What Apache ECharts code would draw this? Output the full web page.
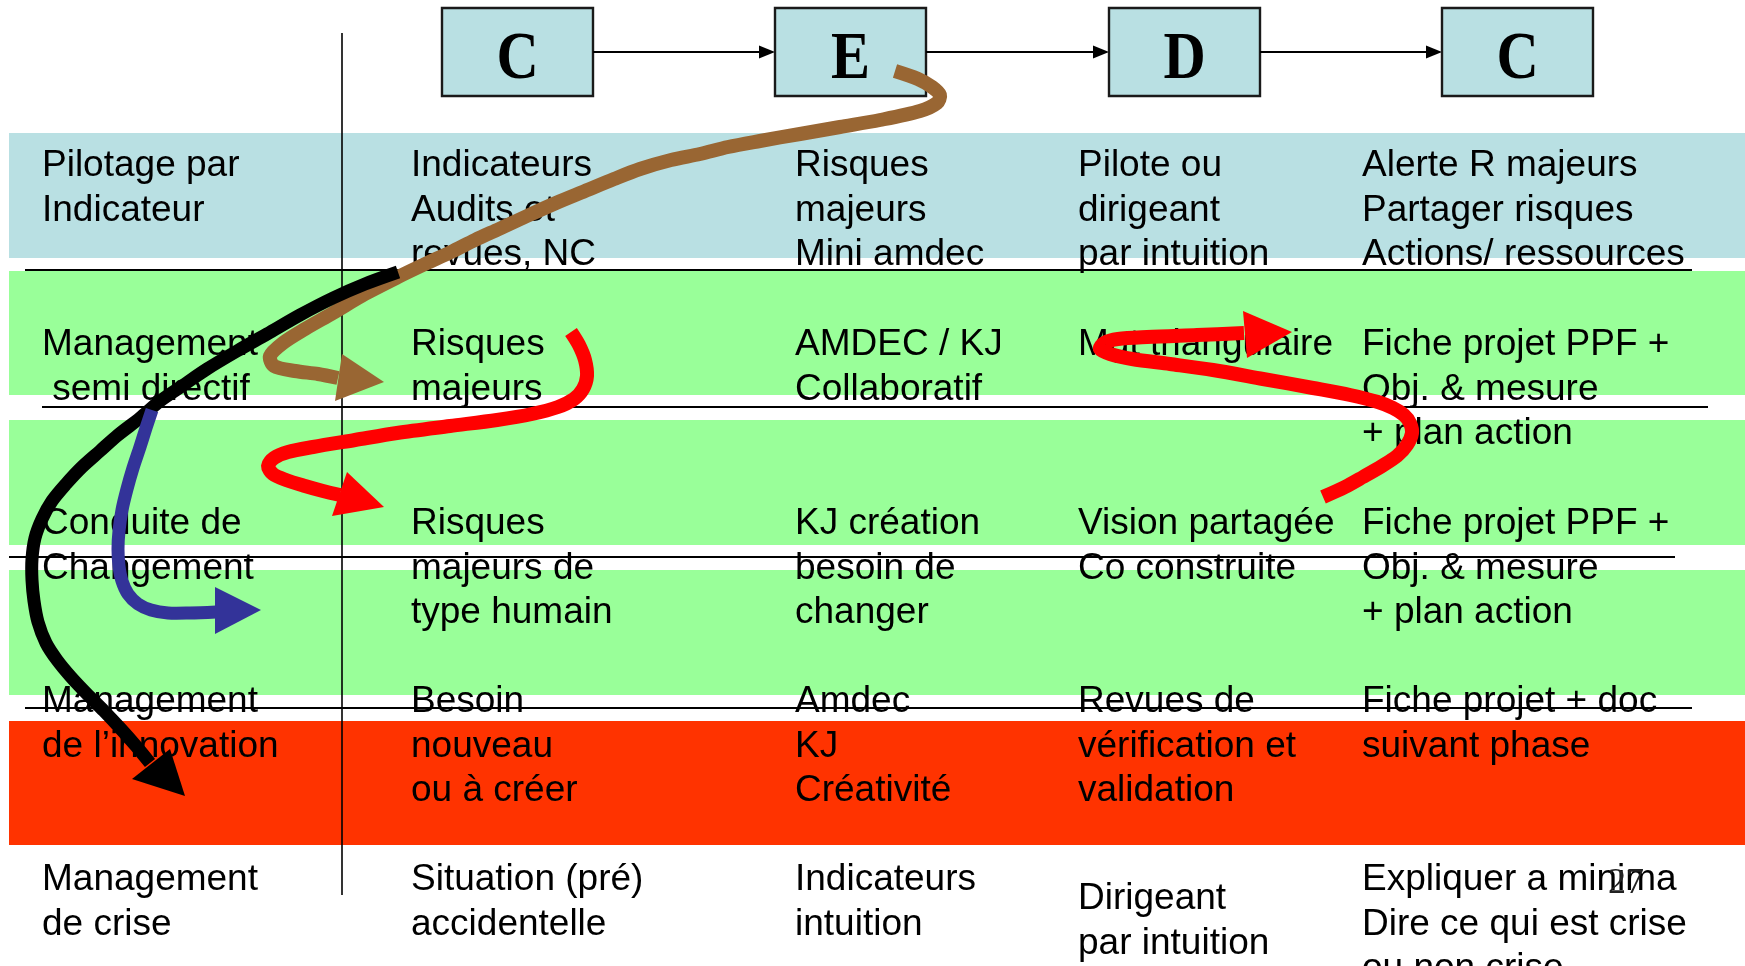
<!DOCTYPE html>
<html>
<head>
<meta charset="utf-8">
<script src="https://cdn.jsdelivr.net/npm/echarts@6/dist/echarts.min.js"></script>
<style>
html,body{margin:0;padding:0;background:#ffffff;}
#c{width:1745px;height:966px;}
</style>
</head>
<body>
<div id="c"></div>
<script>
// ---------- content ----------
const stages = ['C', 'E', 'D', 'C'];
const approaches = [
  ['Pilotage par', 'Indicateur'],
  ['Management', ' semi directif'],
  ['Conduite de', 'Changement'],
  ['Management', 'de l’innovation'],
  ['Management', 'de crise']
];
const stageC1 = [
  ['Indicateurs', 'Audits et', 'revues, NC'],
  ['Risques', 'majeurs'],
  ['Risques', 'majeurs de', 'type humain'],
  ['Besoin', 'nouveau', 'ou à créer'],
  ['Situation (pré)', 'accidentelle']
];
const stageE = [
  ['Risques', 'majeurs', 'Mini amdec'],
  ['AMDEC / KJ', 'Collaboratif'],
  ['KJ création', 'besoin de', 'changer'],
  ['Amdec', 'KJ', 'Créativité'],
  ['Indicateurs', 'intuition']
];
const stageD = [
  ['Pilote ou', 'dirigeant', 'par intuition'],
  ['Mgt triangulaire'],
  ['Vision partagée', 'Co construite'],
  ['Revues de', 'vérification et', 'validation'],
  ['Dirigeant', 'par intuition']
];
const stageC2 = [
  ['Alerte R majeurs', 'Partager risques', 'Actions/ ressources'],
  ['Fiche projet PPF +', 'Obj. & mesure', '+ plan action'],
  ['Fiche projet PPF +', 'Obj. & mesure', '+ plan action'],
  ['Fiche projet + doc', 'suivant phase'],
  ['Expliquer a minima', 'Dire ce qui est crise', 'ou non crise']
];
const pageNumber = '27';

// ---------- curved paths (slide units) ----------
const pathBrown = [[895,71],[918,79],[932,87],[940,95],[937,103],[920,111],[880,120],[840,127],[800,134],[760,141],[728,147],[700,154],[671,160],[640,169],[614,179],[585,191],[556,203],[527,216],[499,229],[475,240],[451,252],[425,264],[398,277],[365,294],[333,313],[305,329],[283,343],[270,356],[274,366],[295,371],[318,374],[338,378]];
const headBrown = [[384,382],[342,354],[335,401]];
const pathBlack = [[398,272],[365,284],[333,298],[300,315],[267,334],[237,351],[207,369],[182,386],[160,401],[140,418],[118,435],[100,451],[82,467],[66,484],[52,501],[42,519],[35,538],[32,559],[32,580],[34,601],[38,622],[46,643],[57,660],[71,677],[87,694],[104,711],[120,728],[136,746],[150,763]];
const headBlack = [[185,796],[132,779],[170,749]];
const pathBlue = [[152,410],[146,428],[140,447],[133,468],[127,489],[122,510],[119,531],[118,549],[119,566],[122,581],[128,594],[138,604],[151,610],[168,613],[190,613],[216,612]];
const headBlue = [[261,610],[215,587],[215,634]];
const pathRed1 = [[571,332],[579,345],[585,360],[587,376],[583,389],[574,399],[558,407],[532,414],[497,420],[450,426],[397,433],[355,440],[313,447],[288,452],[274,458],[268,466],[273,474],[286,480],[305,486],[323,491],[340,495]];
const headRed1 = [[384,507],[347,472],[332,516]];
const pathRed2 = [[1323,497],[1345,487],[1363,477],[1382,466],[1397,456],[1407,445],[1412,433],[1410,423],[1404,415],[1393,408],[1378,402],[1350,395],[1313,388],[1263,379],[1213,370],[1170,364],[1132,359],[1110,354],[1100,349],[1104,343],[1118,339],[1147,337],[1197,335],[1244,333]];
const headRed2 = [[1292,332],[1243,311],[1247,358]];

// ---------- layout (slide units) ----------
const bands = [
  {x0: 9, x1: 1745, y0: 133, y1: 258, color: '#B9E0E3'},
  {x0: 9, x1: 1745, y0: 271, y1: 395, color: '#99FF99'},
  {x0: 9, x1: 1745, y0: 420, y1: 545, color: '#99FF99'},
  {x0: 9, x1: 1745, y0: 570, y1: 695, color: '#99FF99'},
  {x0: 9, x1: 1745, y0: 721, y1: 845, color: '#FF3300'}
];
const rules = [
  [[25,270],[1692,270]],
  [[42,407],[1708,407]],
  [[9,557],[1675,557]],
  [[25,708],[1692,708]],
  [[342,33],[342,895]]
];
const boxLeft = [442, 775, 1109, 1442];
const boxW = 151, boxTop = 8, boxBottom = 96, connectorY = 52, letterY = 60;
const colX = [42, 411, 795, 1078, 1362];
const rowY = [166, 345, 524, 702, 880];
const lineStep = 44.6;
const columns = [approaches, stageC1, stageE, stageD, stageC2];

const curves = [
  {path: pathBrown, head: headBrown, color: '#996633', width: 14},
  {path: pathBlack, head: headBlack, color: '#000000', width: 13},
  {path: pathBlue, head: headBlue, color: '#333399', width: 13},
  {path: pathRed1, head: headRed1, color: '#FF0000', width: 14},
  {path: pathRed2, head: headRed2, color: '#FF0000', width: 14}
];

// text items
const textItems = [];
columns.forEach((col, c) => {
  col.forEach((lines, r) => {
    const shift = (c === 3 && r === 4) ? 0.42 * lineStep : 0;
    lines.forEach((t, i) => {
      textItems.push({x: colX[c], y: rowY[r] + i * lineStep + shift, text: t});
    });
  });
});

const chart = echarts.init(document.getElementById('c'), null, {renderer: 'canvas', width: 1745, height: 966});
const P = (api, arr) => arr.map(p => api.coord(p));
const FONT = '37px "Liberation Sans", Arial, sans-serif';

const base = {type: 'custom', coordinateSystem: 'cartesian2d', silent: true, clip: false, animation: false};

const series = [
  Object.assign({}, base, {
    z: 1,
    data: bands.map(b => [b.x0, b.y0]),
    renderItem(params, api) {
      const b = bands[params.dataIndex];
      const p0 = api.coord([b.x0, b.y0]), p1 = api.coord([b.x1, b.y1]);
      return {type: 'rect', shape: {x: p0[0], y: p0[1], width: p1[0] - p0[0], height: p1[1] - p0[1]}, style: {fill: b.color}};
    }
  }),
  Object.assign({}, base, {
    z: 2,
    data: textItems.map(t => [t.x, t.y]),
    renderItem(params, api) {
      const t = textItems[params.dataIndex];
      const p = api.coord([t.x, t.y]);
      return {type: 'text', x: p[0], y: p[1], style: {text: t.text, font: FONT, fill: '#000', align: 'left', verticalAlign: 'middle'}};
    }
  }),
  Object.assign({}, base, {
    z: 3,
    data: rules.map(r => r[0]),
    renderItem(params, api) {
      const r = rules[params.dataIndex];
      const a = api.coord(r[0]), b = api.coord(r[1]);
      const vertical = Math.abs(a[0] - b[0]) < 1;
      return {type: 'line', shape: {x1: a[0], y1: a[1], x2: b[0], y2: b[1]}, style: {stroke: '#000', lineWidth: vertical ? 1.6 : 2.2}};
    }
  }),
  Object.assign({}, base, {
    z: 4,
    data: stages.map((s, i) => [boxLeft[i], boxTop]),
    renderItem(params, api) {
      const i = params.dataIndex;
      const p0 = api.coord([boxLeft[i], boxTop]), p1 = api.coord([boxLeft[i] + boxW, boxBottom]);
      const children = [
        {type: 'rect', shape: {x: p0[0], y: p0[1], width: p1[0] - p0[0], height: p1[1] - p0[1]}, style: {fill: '#B9E0E3', stroke: '#1a1a1a', lineWidth: 2.4}},
        {type: 'text', x: (p0[0] + p1[0]) / 2, y: api.coord([0, letterY])[1], scaleX: 0.86,
         style: {text: stages[i], font: 'bold 68px "Liberation Serif", "Times New Roman", serif', fill: '#000', align: 'center', verticalAlign: 'middle'}}
      ];
      if (i < stages.length - 1) {
        const a = api.coord([boxLeft[i] + boxW, connectorY]);
        const b = api.coord([boxLeft[i + 1], connectorY]);
        const tipBase = api.coord([boxLeft[i + 1] - 16, connectorY]);
        children.push({type: 'line', shape: {x1: a[0], y1: a[1], x2: tipBase[0], y2: tipBase[1]}, style: {stroke: '#000', lineWidth: 2}});
        children.push({type: 'polygon', shape: {points: [b, [tipBase[0], tipBase[1] - 6.5], [tipBase[0], tipBase[1] + 6.5]]}, style: {fill: '#000'}});
      }
      return {type: 'group', children: children};
    }
  }),
  Object.assign({}, base, {
    z: 5,
    data: curves.map(c => c.path[0]),
    renderItem(params, api) {
      const c = curves[params.dataIndex];
      return {type: 'group', children: [
        {type: 'polyline', shape: {points: P(api, c.path), smooth: 0.3}, style: {stroke: c.color, lineWidth: c.width, fill: 'none', lineCap: 'butt', lineJoin: 'round'}},
        {type: 'polygon', shape: {points: P(api, c.head)}, style: {fill: c.color}}
      ]};
    }
  }),
  Object.assign({}, base, {
    z: 6,
    data: [[1608, 884]],
    renderItem(params, api) {
      const p = api.coord([1608, 884]);
      return {type: 'text', x: p[0], y: p[1], style: {text: pageNumber, font: '36px "Liberation Serif", "Times New Roman", serif', fill: '#222', align: 'left', verticalAlign: 'middle'}};
    }
  })
];

chart.setOption({
  animation: false,
  grid: {left: 0, right: 0, top: 0, bottom: 0},
  xAxis: {type: 'value', min: 0, max: 1745, show: false},
  yAxis: {type: 'value', min: 0, max: 966, inverse: true, show: false},
  series: series
});
</script>
</body>
</html>
